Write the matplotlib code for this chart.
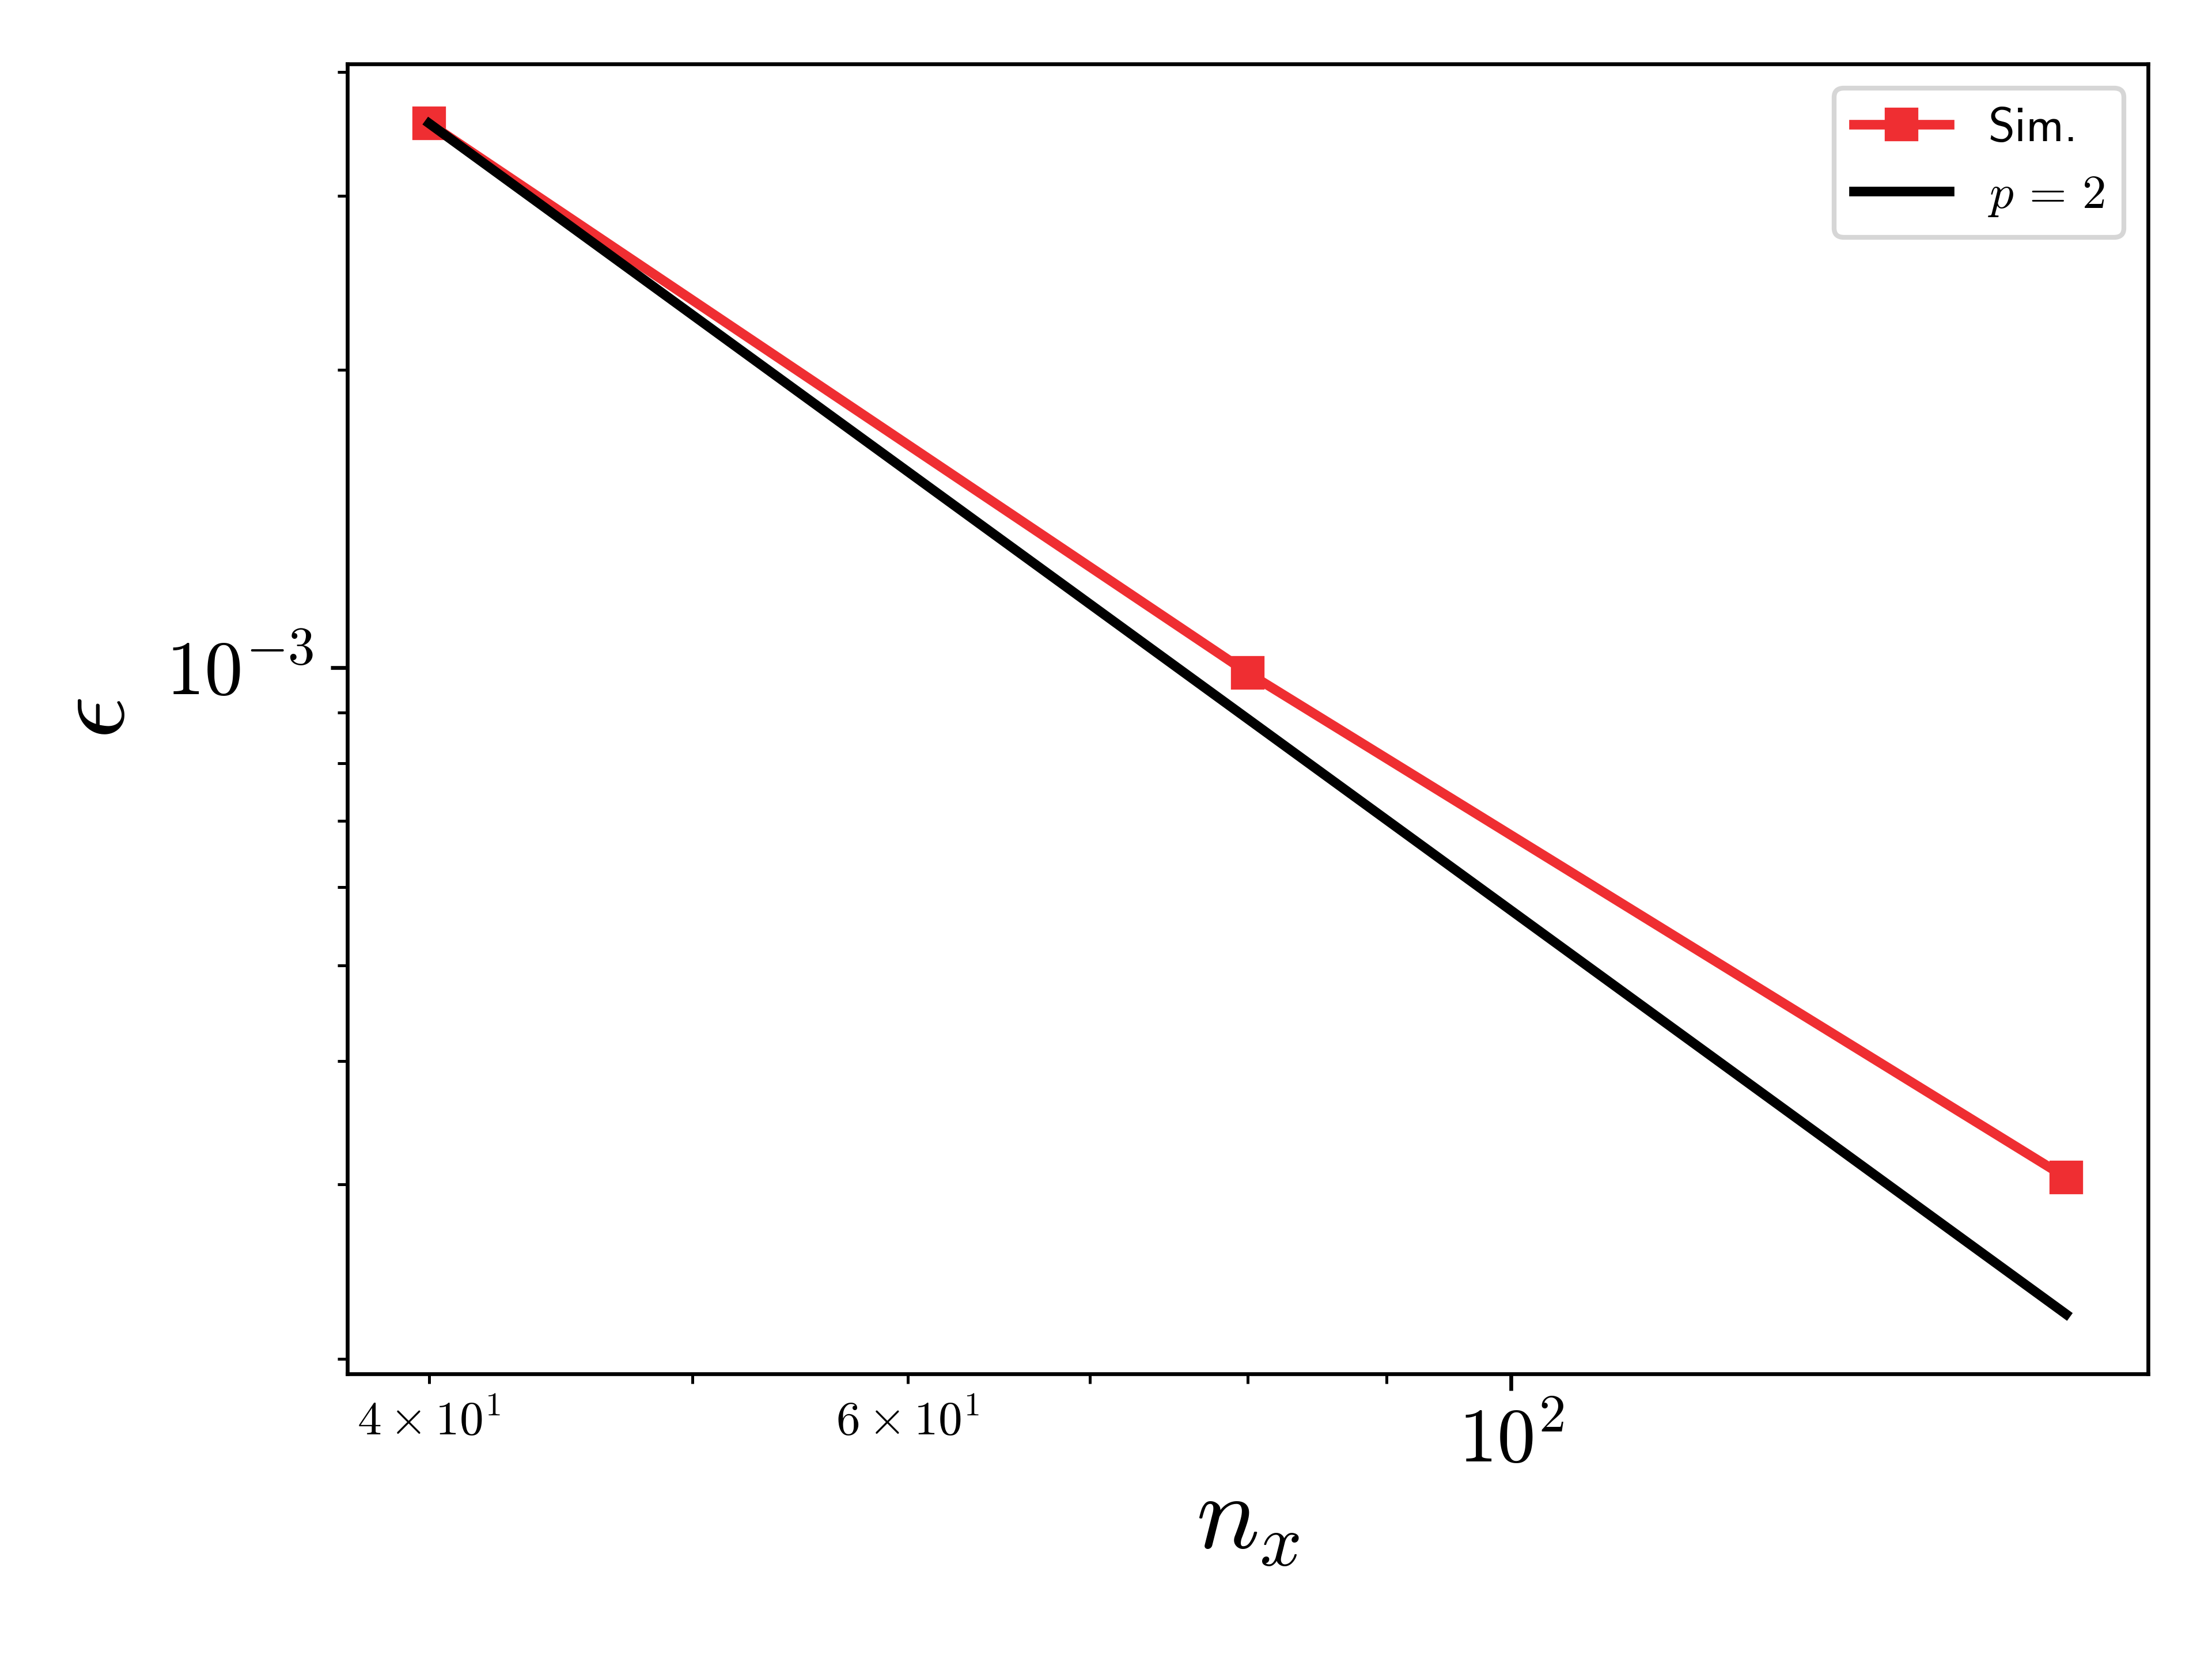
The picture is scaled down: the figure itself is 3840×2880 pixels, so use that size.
import numpy as np
import matplotlib
matplotlib.use("Agg")
import matplotlib.pyplot as plt

# Computer Modern look (fonts shipped with matplotlib)
plt.rcParams["mathtext.fontset"] = "cm"
plt.rcParams["font.family"] = "cmr10"
plt.rcParams["axes.formatter.use_mathtext"] = True
plt.rcParams["axes.unicode_minus"] = False

# grid sizes and measured error
nx = [40, 80, 160]
err_sim = [3.55e-3, 9.88e-4, 3.05e-4]
order = 2

# reference slope p = 2 anchored at the first point
nx_arr = np.array(nx, dtype=float)
err_ref = err_sim[0] * (nx_arr / nx_arr[0]) ** (-order)

fig, ax = plt.subplots(figsize=(6.4, 4.8))
fig.subplots_adjust(left=0.157, right=0.971, bottom=0.172, top=0.9615)

ax.loglog(nx, err_sim, "s-", color="#EF2E32", lw=2, label="Sim.")
ax.loglog(nx_arr, err_ref, "-", color="k", lw=2, label=r"$p\,=\,2$")

ax.set_xlabel(r"$n_x$", fontsize=22, labelpad=-0.5)
ax.set_ylabel(r"$\epsilon$", fontsize=22, labelpad=4.5)
ax.tick_params(which="major", labelsize=16)

leg = ax.legend(loc="upper right")
leg.get_texts()[0].set_fontfamily("cmss10")

fig.savefig("out.png", dpi=600)
